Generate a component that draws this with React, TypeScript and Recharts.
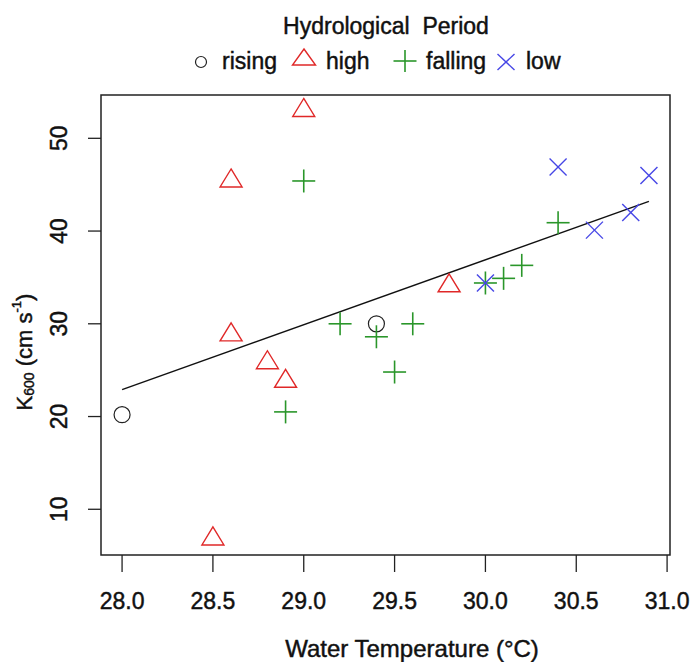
import React from "react";
import {
  ScatterChart,
  Scatter,
  XAxis,
  YAxis,
  ReferenceArea,
  ReferenceLine,
  Legend,
} from "recharts";

// ---- data ----
const risingX = [28.0, 29.4];
const risingY = [20.2, 30.0];

const highX = [28.5, 29.0, 28.6, 28.6, 28.8, 28.9, 29.8];
const highY = [6.8, 53.0, 45.4, 28.8, 25.8, 23.8, 34.1];

const fallingX = [29.0, 29.2, 29.4, 29.5, 28.9, 29.6, 30.0, 30.1, 30.2, 30.4];
const fallingY = [45.4, 30.0, 28.6, 24.8, 20.5, 30.0, 34.4, 34.9, 36.3, 40.9];

const lowX = [30.4, 30.9, 30.8, 30.6, 30.0];
const lowY = [46.9, 46.0, 42.0, 40.1, 34.4];

const trendX = [28.0, 30.9];
const trendY = [22.9, 43.2];

const xTicks = [28.0, 28.5, 29.0, 29.5, 30.0, 30.5, 31.0];
const yTicks = [10, 20, 30, 40, 50];

const legendTitle = "Hydrological  Period";
const legendLabels = ["rising", "high", "falling", "low"];
const xTitle = "Water Temperature (°C)";

const X_DOMAIN: [number, number] = [27.884, 31.016];
const Y_DOMAIN: [number, number] = [5.07, 54.67];

const zip = (xs: number[], ys: number[]) => xs.map((x, i) => ({ x, y: ys[i] }));

const RED = "#e02828";
const GREEN = "#2a962a";
const BLUE = "#4646e6";
const FONT = "'Liberation Sans', Arial, sans-serif";
const TXT = { fill: "#111", stroke: "#111", strokeWidth: 0.45 };

const CircleShape = (p: any) => (
  <circle cx={p.cx} cy={p.cy} r={8} fill="none" stroke="#222" strokeWidth={1.2} />
);
const TriShape = (p: any) => (
  <polygon
    points={`${p.cx},${p.cy - 12} ${p.cx + 11},${p.cy + 6} ${p.cx - 11},${p.cy + 6}`}
    fill="none"
    stroke={RED}
    strokeWidth={1.4}
  />
);
const PlusShape = (p: any) => (
  <g stroke={GREEN} strokeWidth={1.6}>
    <line x1={p.cx - 11.5} y1={p.cy} x2={p.cx + 11.5} y2={p.cy} />
    <line x1={p.cx} y1={p.cy - 11.5} x2={p.cx} y2={p.cy + 11.5} />
  </g>
);
const CrossShape = (p: any) => (
  <g stroke={BLUE} strokeWidth={1.4}>
    <line x1={p.cx - 8.5} y1={p.cy - 8.5} x2={p.cx + 8.5} y2={p.cy + 8.5} />
    <line x1={p.cx - 8.5} y1={p.cy + 8.5} x2={p.cx + 8.5} y2={p.cy - 8.5} />
  </g>
);

const XTick = (p: any) => (
  <text x={p.x} y={609} textAnchor="middle" fontFamily={FONT} fontSize={23} {...TXT}>
    {Number(p.payload.value).toFixed(1)}
  </text>
);

const YTick = (p: any) => (
  <text
    x={59}
    y={p.y}
    transform={`rotate(-90, 59, ${p.y})`}
    textAnchor="middle"
    dominantBaseline="central"
    fontFamily={FONT}
    fontSize={23}
    {...TXT}
  >
    {p.payload.value}
  </text>
);

const YTitle = () => (
  <text
    x={24}
    y={352}
    transform="rotate(-90, 24, 352)"
    textAnchor="middle"
    dominantBaseline="central"
    fontFamily={FONT}
    fontSize={22}
    {...TXT}
  >
    <tspan>K</tspan>
    <tspan fontSize={14} dy={5}>600</tspan>
    <tspan dy={-5}> (cm s</tspan>
    <tspan fontSize={13} dy={-8}>-1</tspan>
    <tspan dy={8}>)</tspan>
  </text>
);

const XTitle = () => (
  <text x={412} y={657} textAnchor="middle" fontFamily={FONT} fontSize={24} {...TXT}>
    {xTitle}
  </text>
);

const LegendContent = () => (
  <svg width={691} height={80} style={{ display: "block" }}>
    <text
      x={386}
      y={34}
      textAnchor="middle"
      fontFamily={FONT}
      fontSize={23}
      {...TXT}
      style={{ whiteSpace: "pre" }}
    >
      {legendTitle}
    </text>
    <circle cx={201} cy={62} r={5.5} fill="none" stroke="#222" strokeWidth={1.2} />
    <text x={222} y={69} fontFamily={FONT} fontSize={23} {...TXT}>{legendLabels[0]}</text>
    <polygon points="304,49 315.5,65 292.5,65" fill="none" stroke={RED} strokeWidth={1.4} />
    <text x={326} y={69} fontFamily={FONT} fontSize={23} {...TXT}>{legendLabels[1]}</text>
    <g stroke={GREEN} strokeWidth={1.6}>
      <line x1={393.5} y1={61} x2={416.5} y2={61} />
      <line x1={405} y1={50} x2={405} y2={72} />
    </g>
    <text x={426} y={69} fontFamily={FONT} fontSize={23} {...TXT}>{legendLabels[2]}</text>
    <g stroke={BLUE} strokeWidth={1.4}>
      <line x1={497.5} y1={54} x2={514.5} y2={70} />
      <line x1={497.5} y1={70} x2={514.5} y2={54} />
    </g>
    <text x={526} y={69} fontFamily={FONT} fontSize={23} {...TXT}>{legendLabels[3]}</text>
  </svg>
);

export default function App() {
  return (
    <div style={{ position: "absolute", left: 0, top: 0, background: "#fff" }}>
      <ScatterChart
        width={691}
        height={662}
        margin={{ top: 95, right: 21, bottom: 0, left: 0 }}
      >
        <XAxis
          type="number"
          dataKey="x"
          domain={X_DOMAIN}
          ticks={xTicks}
          allowDataOverflow
          axisLine={false}
          tickSize={17}
          tickLine={{ stroke: "#222", strokeWidth: 1.3 }}
          tick={<XTick />}
          height={107}
          interval={0}
          label={<XTitle />}
        />
        <YAxis
          type="number"
          dataKey="y"
          domain={Y_DOMAIN}
          ticks={yTicks}
          allowDataOverflow
          axisLine={false}
          tickSize={13}
          tickLine={{ stroke: "#222", strokeWidth: 1.3 }}
          tick={<YTick />}
          width={101}
          interval={0}
          label={<YTitle />}
        />
        <ReferenceArea
          x1={X_DOMAIN[0]}
          x2={X_DOMAIN[1]}
          y1={Y_DOMAIN[0]}
          y2={Y_DOMAIN[1]}
          fill="none"
          stroke="#222"
          strokeWidth={1.5}
          ifOverflow="visible"
        />
        <ReferenceLine
          segment={[
            { x: trendX[0], y: trendY[0] },
            { x: trendX[1], y: trendY[1] },
          ]}
          stroke="#111"
          strokeWidth={1.5}
          ifOverflow="visible"
        />
        <Scatter name="rising" data={zip(risingX, risingY)} shape={CircleShape} isAnimationActive={false} />
        <Scatter name="high" data={zip(highX, highY)} shape={TriShape} isAnimationActive={false} />
        <Scatter name="falling" data={zip(fallingX, fallingY)} shape={PlusShape} isAnimationActive={false} />
        <Scatter name="low" data={zip(lowX, lowY)} shape={CrossShape} isAnimationActive={false} />
        <Legend
          layout="horizontal"
          verticalAlign="middle"
          align="center"
          content={<LegendContent />}
          wrapperStyle={{ position: "absolute", top: 0, left: 0, width: 691, height: 80 }}
        />
      </ScatterChart>
    </div>
  );
}
